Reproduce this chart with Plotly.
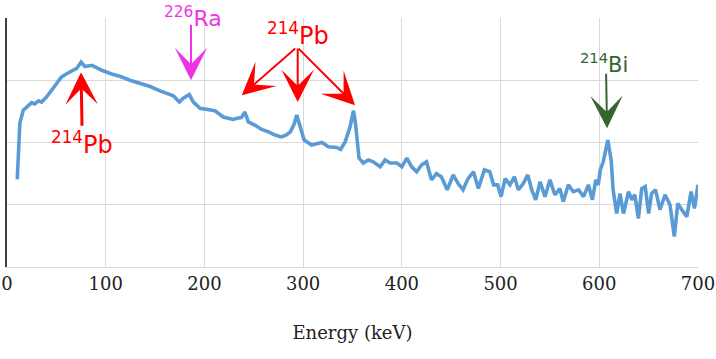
import plotly.graph_objects as go

energy_kev = [10.4, 11.5, 13, 16.5, 20, 25, 28, 32, 35, 40, 49, 55, 60, 65.5, 70.6, 75, 79, 86, 91, 96,
              106, 115, 124.6, 135, 145, 155, 163, 168.5, 174.6, 178.6, 184.7, 188.8, 195.5, 202, 210.7,
              219, 229, 233, 237.5, 241, 244.5, 251, 258, 265, 271.5, 278, 283, 287, 291, 293.5, 297,
              301, 308.7, 314, 319, 325.6, 334, 338, 342.5, 347.5, 351, 353, 356.6, 361, 366, 371, 378,
              383, 388, 395, 400, 405, 410, 415, 420, 425, 430, 435, 440, 446, 452, 457, 462, 467,
              472.5, 477.5, 483.6, 489, 493, 497, 500.5, 504.6, 509.6, 514, 518, 523, 527.5, 531.6,
              535.6, 540, 545, 550, 555, 560, 563.5, 568.7, 573.7, 579, 584, 589, 593, 596.5, 599,
              601, 604, 608.6, 612, 614, 617.6, 621, 624.5, 629.6, 633, 636, 639.6, 643, 646.5, 650,
              653, 657, 661.5, 666.6, 671.6, 676, 679.5, 683.6, 688.6, 693, 696.4, 700]
counts = [141, 188, 231, 252, 257, 264, 262, 267, 265, 273, 292, 305, 310, 315, 319, 329, 322, 324, 320, 316,
          310, 306, 300, 295, 290, 283, 278, 275, 265, 271, 277, 265, 255, 253, 251,
          241, 237, 239, 240, 249, 233, 228, 221, 217, 212, 209, 212, 217, 230, 244, 225,
          204, 196, 198, 200, 193, 192, 189, 201, 225, 251, 231, 175, 167, 172, 169, 161,
          172, 167, 167, 161, 175, 161, 153, 164, 169, 140, 150, 145, 124, 148, 134, 124, 142,
          153, 126, 156, 153, 132, 132, 113, 142, 132, 145, 124, 134, 148, 124,
          108, 137, 113, 140, 116, 126, 105, 132, 121, 124, 113, 132, 108, 140, 132,
          156, 169, 204, 172, 124, 86, 118, 86, 121, 108, 116, 78, 126, 129, 86,
          118, 124, 92, 116, 100, 49, 102, 92, 81, 121, 94, 132]

x_ticks = [0, 100, 200, 300, 400, 500, 600, 700]

# peak labels: (text, colour, text x, text y as fraction of plot height, font size)
labels = [
    ("<sup>214</sup>Pb", "#ff0000", 75.5, 0.497, 24),
    ("<sup>226</sup>Ra", "#ee33e6", 188, 1.004, 22),
    ("<sup>214</sup>Pb", "#ff0000", 294.3, 0.935, 24),
    ("<sup>214</sup>Bi", "#356530", 604.4, 0.82, 21),
]
# arrows: (tip x, tip y, tail dx px, tail dy px, colour, width)
arrows = [
    (75.0, 313, 1, 55, "#ff0000", 3),
    (186.4, 300, 0, -57, "#ee33e6", 2),
    (237.8, 276, 55, -48, "#ff0000", 2),
    (294.5, 265, 0, -55, "#ff0000", 2),
    (352.6, 260, -58, -58, "#ff0000", 2),
    (607.9, 223, -1, -56, "#356530", 2),
]

fig = go.Figure()
fig.add_trace(go.Scatter(x=energy_kev, y=counts, mode="lines",
                         line=dict(color="#5b9bd5", width=3.6), showlegend=False))

for text, col, tx, ty, fs in labels:
    fig.add_annotation(x=tx, y=ty, yref="paper", text=text, showarrow=False,
                       xanchor="center", yanchor="middle",
                       font=dict(family="DejaVu Sans", size=fs, color=col))
for axv, ayv, dx, dy, col, w in arrows:
    fig.add_annotation(x=axv, y=ayv, text="", showarrow=True, ax=dx, ay=dy,
                       arrowhead=3, arrowsize=2.7 if w == 2 else 1.8, arrowwidth=w, arrowcolor=col,
                       standoff=0)

fig.update_layout(
    width=716, height=359,
    margin=dict(l=7, r=18, t=18, b=92),
    paper_bgcolor="white", plot_bgcolor="white",
    font=dict(family="DejaVu Serif", size=18, color="#222222"),
    xaxis=dict(range=[0, 700], tickvals=x_ticks, showgrid=True, gridcolor="#d9d9d9", gridwidth=1,
               zeroline=False, showline=True, linecolor="#d9d9d9", linewidth=1, ticks="",
               automargin=False,
               title=dict(text="Energy (keV)", standoff=33, font=dict(family="DejaVu Serif", size=18)),
               tickfont=dict(family="DejaVu Serif", size=18, color="#222222")),
    yaxis=dict(range=[0, 400], dtick=100, showticklabels=False, showgrid=True, gridcolor="#d9d9d9",
               zeroline=False, showline=True, linecolor="#404040", linewidth=1.5, ticks="",
               automargin=False),
)

fig.write_html("out.html", config={"displayModeBar": False},
               post_script="document.body.style.margin='0';")
